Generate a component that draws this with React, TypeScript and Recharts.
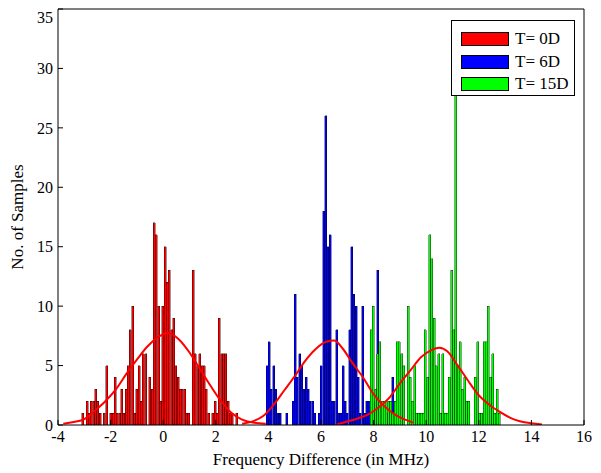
import React from "react";
import { Bar, ComposedChart, Legend, Line, XAxis, YAxis } from "recharts";

// histogram bins: all three series sit on the same bin grid
const BIN_WIDTH = 0.0825;
const FIRST_EDGE = -3.1;

const redStartBin = 0;
const redCounts = [
  1, 0, 2, 1, 2, 2, 3, 2, 1, 0, 1, 5, 0, 1, 1, 4, 1, 1, 3, 1, 3, 5, 8, 10,
  1, 3, 5, 2, 6, 6, 0, 4, 3, 17, 16, 10, 2, 10, 15, 12, 13, 8, 9, 5, 4, 3, 3, 3,
  1, 1, 0, 13, 6, 5, 6, 5, 5, 3, 1, 0, 1, 2, 1, 9, 6, 6, 6, 2, 1, 1, 0, 1,
];

const blueStartBin = 85;
const blueCounts = [
  5, 7, 3, 5, 3, 1, 1, 0, 0, 1, 0, 0, 2, 11, 4, 6, 5, 3, 4, 3, 2, 2, 1, 0,
  1, 5, 18, 26, 15, 16, 2, 2, 8, 1, 1, 5, 2, 1, 8, 15, 11, 10, 4, 1, 10, 1, 2, 2,
  2, 1, 2, 13, 1, 1, 2, 1, 0, 1, 4,
];

const greenStartBin = 133;
const greenCounts = [
  8, 10, 3, 6, 7, 2, 2, 2, 2, 2, 1, 2, 7, 7, 6, 5, 0, 10, 4, 2, 5, 1, 1, 1,
  1, 8, 4, 16, 14, 9, 5, 6, 1, 6, 1, 1, 4, 13, 8, 29, 5, 7, 3, 4, 2, 2, 0, 0,
  4, 7, 1, 1, 7, 7, 10, 4, 6, 1, 3, 1,
];

// fitted normal curves
const redFitX = [-3.8, -3.4, -3.0, -2.6, -2.2, -1.8, -1.4, -1.0, -0.6, -0.2, 0.2, 0.6, 1.0, 1.4, 1.8, 2.2, 2.6, 3.0, 3.4, 3.9];
const redFitY = [0.1, 0.25, 0.5, 1.2, 2.0, 3.0, 4.3, 5.5, 6.6, 7.4, 7.75, 7.2, 6.1, 4.7, 3.3, 2.0, 1.0, 0.45, 0.2, 0.1];

const blueFitX = [3.0, 3.4, 3.8, 4.2, 4.6, 5.0, 5.4, 5.8, 6.2, 6.5, 6.8, 7.2, 7.6, 8.0, 8.4, 8.8, 9.2, 9.5];
const blueFitY = [0.1, 0.3, 0.75, 1.7, 2.9, 4.1, 5.4, 6.4, 7.0, 7.1, 6.5, 5.2, 4.0, 2.6, 1.6, 0.9, 0.45, 0.2];

const greenFitX = [6.6, 7.0, 7.4, 7.8, 8.2, 8.6, 9.0, 9.4, 9.8, 10.2, 10.5, 10.8, 11.2, 11.6, 12.0, 12.4, 12.8, 13.2, 13.6, 14.0, 14.4];
const greenFitY = [0.05, 0.3, 0.55, 0.9, 1.5, 2.3, 3.5, 4.6, 5.7, 6.3, 6.5, 6.2, 5.0, 3.7, 2.5, 1.7, 1.1, 0.6, 0.3, 0.15, 0.05];

const xTicks = [-4, -2, 0, 2, 4, 6, 8, 10, 12, 14, 16];
const yTicks = [0, 5, 10, 15, 20, 25, 30, 35];

const series = [
  { key: "red", name: "T= 0D", color: "#ff0000", start: redStartBin, counts: redCounts },
  { key: "blue", name: "T= 6D", color: "#0000ff", start: blueStartBin, counts: blueCounts },
  { key: "green", name: "T= 15D", color: "#00ff00", start: greenStartBin, counts: greenCounts },
];

const fits = [
  { key: "fitRed", xs: redFitX, ys: redFitY },
  { key: "fitBlue", xs: blueFitX, ys: blueFitY },
  { key: "fitGreen", xs: greenFitX, ys: greenFitY },
];

const binCount = Math.max(...series.map((s) => s.start + s.counts.length));
const rows = Array.from({ length: binCount }, (_, k) => {
  const row: Record<string, number> = { x: FIRST_EDGE + (k + 0.5) * BIN_WIDTH };
  series.forEach((s) => {
    const i = k - s.start;
    if (i >= 0 && i < s.counts.length) row[s.key] = s.counts[i];
  });
  return row;
});

const fitData = fits.map((f) => ({
  key: f.key,
  data: f.xs.map((x, i) => ({ x, y: f.ys[i] })),
}));

const FONT = '"Liberation Serif", "Times New Roman", serif';

const LegendBox = () => (
  <div
    style={{
      width: 124,
      height: 76,
      boxSizing: "border-box",
      border: "1px solid #000",
      background: "#fff",
      padding: "7px 0 0 9px",
      fontFamily: FONT,
      fontSize: 17,
      color: "#000",
    }}
  >
    {series.map((s) => (
      <div key={s.key} style={{ display: "flex", alignItems: "center", height: 22.5 }}>
        <span
          style={{
            display: "inline-block",
            width: 48,
            height: 14,
            boxSizing: "border-box",
            border: "1px solid #000",
            background: s.color,
            marginRight: 6,
          }}
        />
        <span>{s.name}</span>
      </div>
    ))}
  </div>
);

export default function App() {
  return (
    <div style={{ width: 593, height: 465, fontFamily: FONT }}>
      <ComposedChart
        width={593}
        height={465}
        data={rows}
        margin={{ top: 0, right: 16, bottom: 0, left: 0 }}
        barSize={2}
        barGap={-2}
        barCategoryGap={0}
      >
        <XAxis
          dataKey="x"
          type="number"
          domain={[-4, 16]}
          ticks={xTicks}
          allowDataOverflow
          height={48}
          tickSize={-5}
          tickMargin={11}
          stroke="#000"
          tick={{ fill: "#000", fontSize: 16, fontFamily: FONT }}
          label={{
            value: "Frequency Difference (in MHz)",
            position: "insideBottom",
            offset: 8,
            fill: "#000",
            fontSize: 17,
            fontFamily: FONT,
          }}
        />
        <XAxis
          xAxisId="top"
          orientation="top"
          dataKey="x"
          type="number"
          domain={[-4, 16]}
          ticks={xTicks}
          allowDataOverflow
          height={1}
          tickSize={-5}
          tick={false}
          stroke="#000"
        />
        <YAxis
          type="number"
          domain={[0, 35]}
          ticks={yTicks}
          allowDataOverflow
          width={50}
          tickSize={-5}
          tickMargin={10}
          stroke="#000"
          tick={{ fill: "#000", fontSize: 16, fontFamily: FONT }}
          label={{
            value: "No. of Samples",
            angle: -90,
            position: "insideLeft",
            offset: 9,
            fill: "#000",
            fontSize: 17,
            fontFamily: FONT,
            style: { textAnchor: "middle" },
          }}
        />
        <YAxis
          yAxisId="right"
          orientation="right"
          type="number"
          domain={[0, 35]}
          ticks={yTicks}
          allowDataOverflow
          width={1}
          tickSize={-5}
          tick={false}
          stroke="#000"
        />
        {series.map((s) => (
          <Bar
            key={s.key}
            dataKey={s.key}
            name={s.name}
            fill={s.color}
            stroke="#000"
            strokeWidth={0.4}
            shapeRendering="crispEdges"
            isAnimationActive={false}
          />
        ))}
        {fitData.map((f) => (
          <Line
            key={f.key}
            xAxisId="top"
            data={f.data}
            dataKey="y"
            type="monotone"
            stroke="#ff0000"
            strokeWidth={2}
            dot={false}
            legendType="none"
            isAnimationActive={false}
          />
        ))}
        <Legend
          layout="horizontal"
          verticalAlign="middle"
          align="center"
          content={() => <LegendBox />}
          wrapperStyle={{ position: "absolute", left: 443, top: 12, width: 124 }}
        />
      </ComposedChart>
    </div>
  );
}
